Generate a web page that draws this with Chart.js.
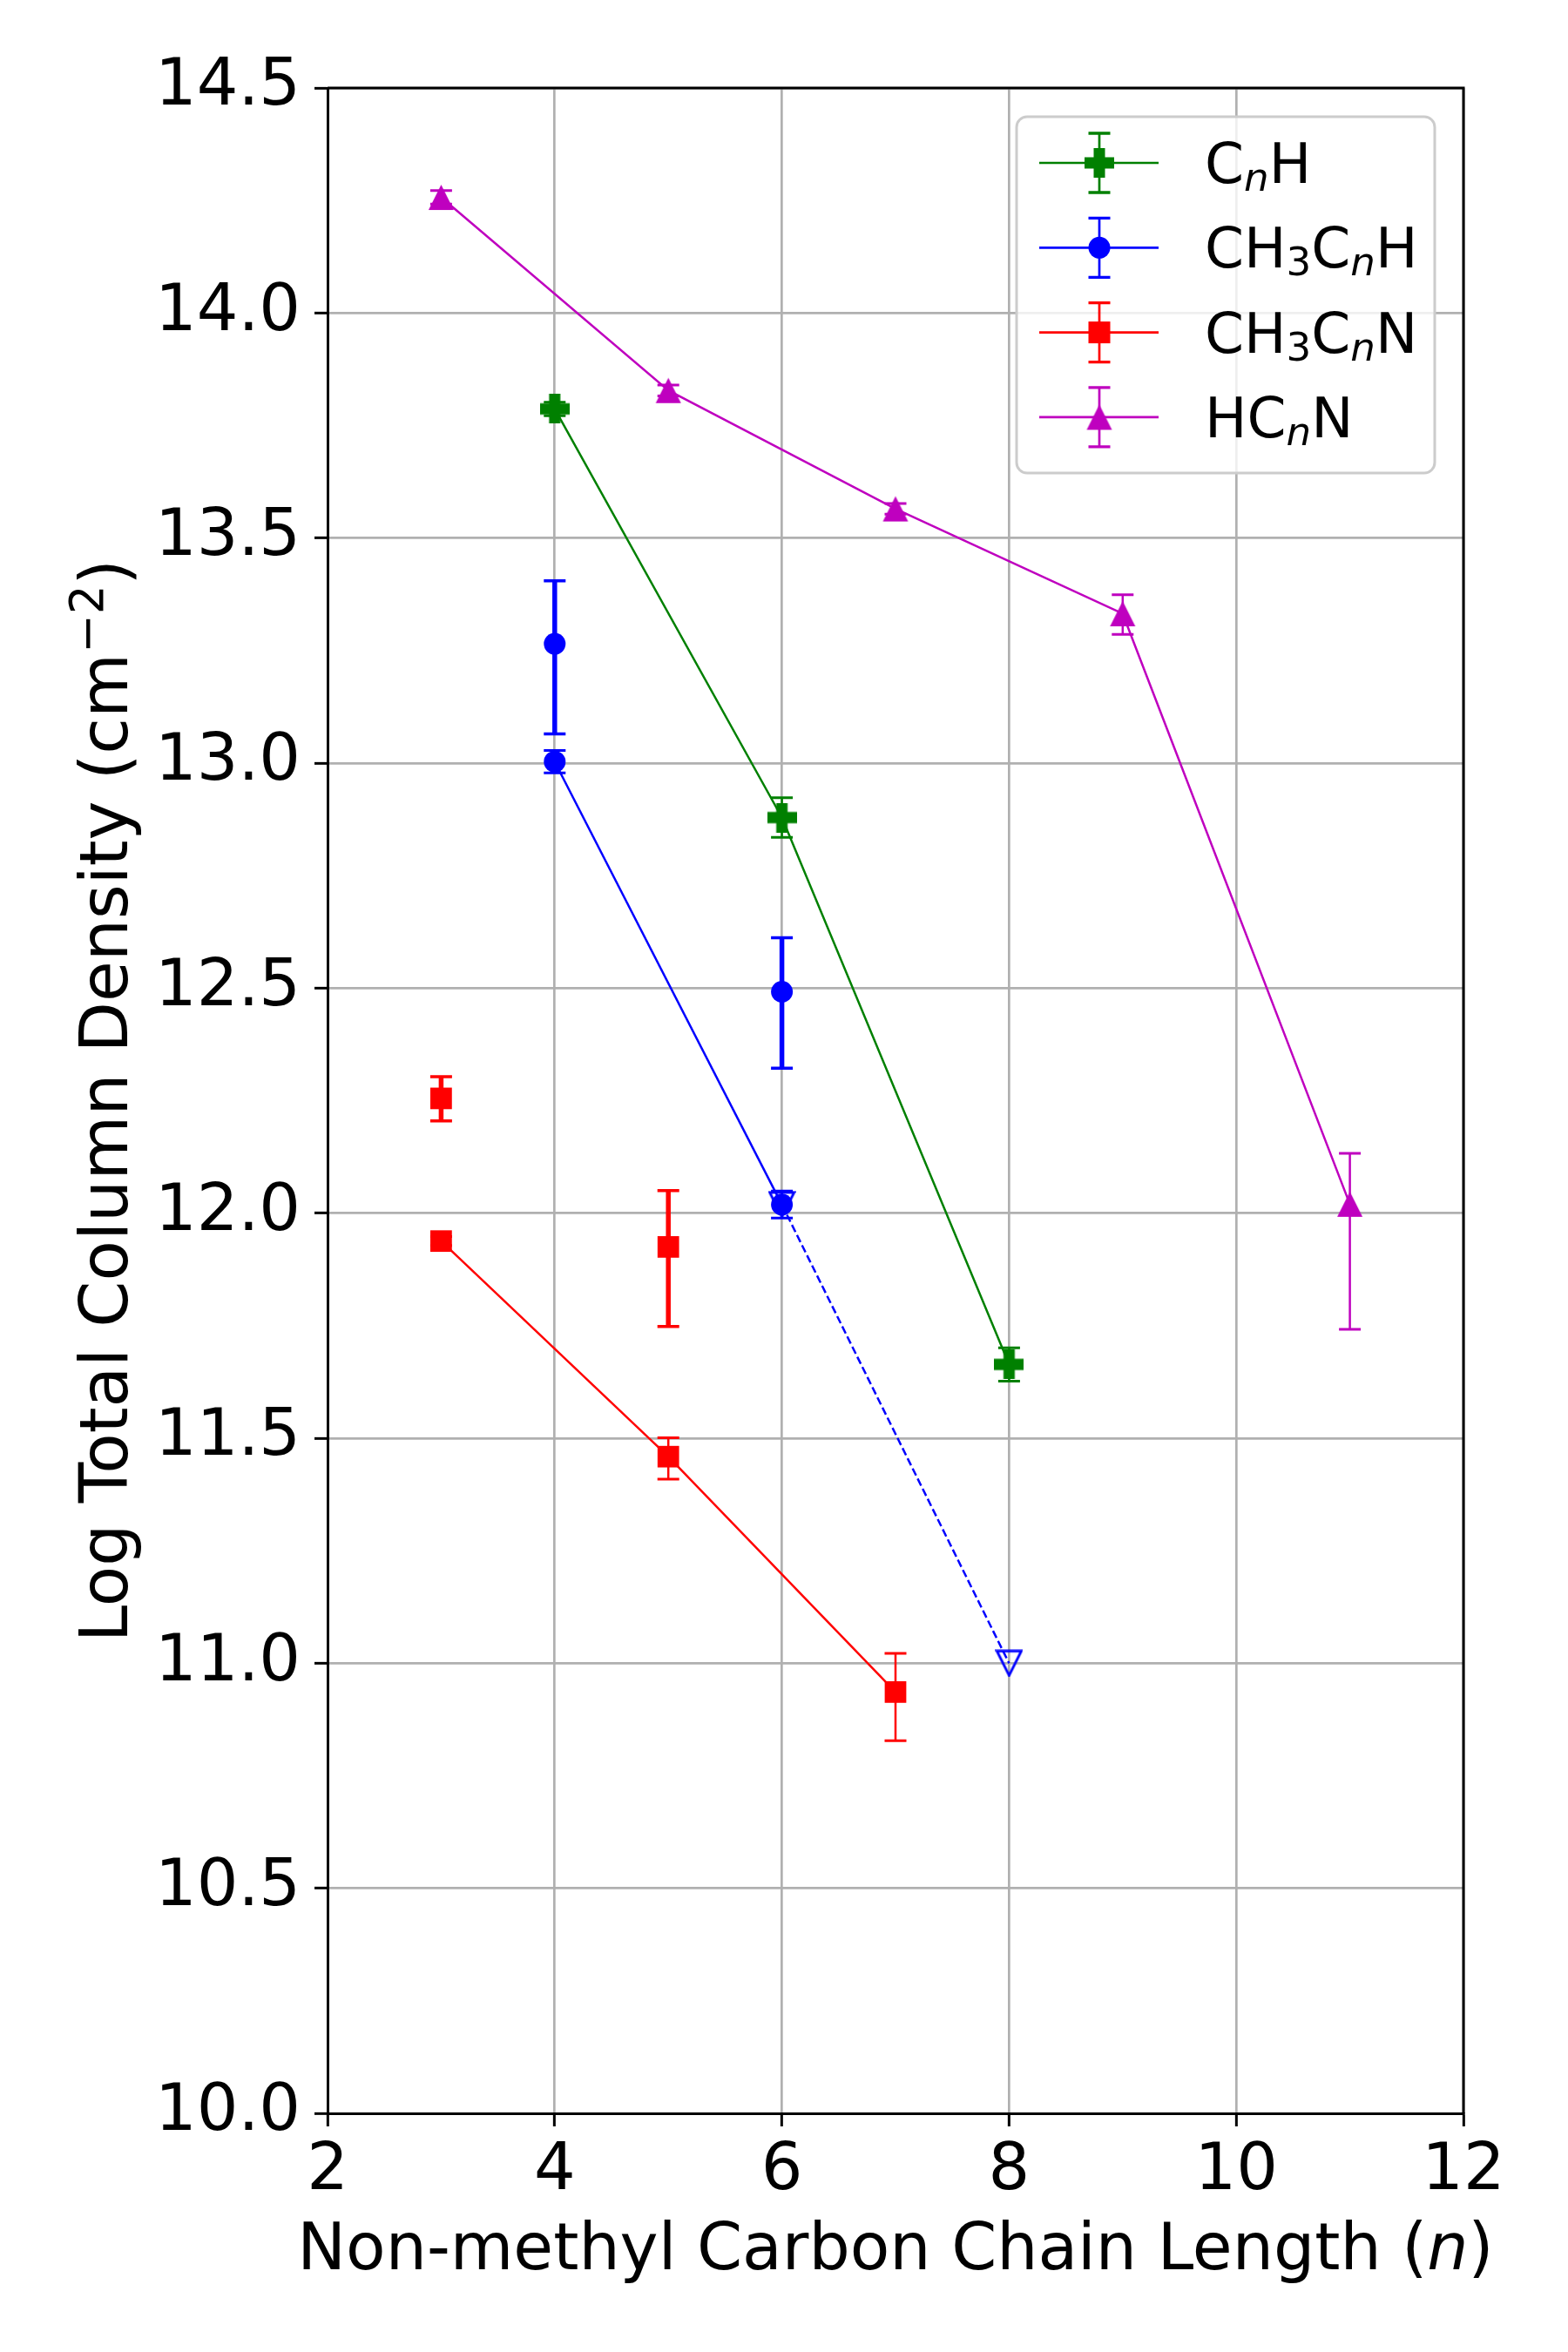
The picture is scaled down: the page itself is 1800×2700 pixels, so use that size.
<!DOCTYPE html>
<html>
<head>
<meta charset="utf-8">
<script src="https://cdn.jsdelivr.net/npm/chart.js@4.4.0/dist/chart.umd.min.js"></script>
<style>
  body { margin: 0; background: #fff; }
  canvas { display: block; }
</style>
</head>
<body>
<canvas id="chainChart" width="1800" height="2700"></canvas>
<script>
// CnH
const cnhN = [4, 6, 8];
const cnhLogN = [13.787, 12.879, 11.664];
const cnhErrHi = [0.015, 0.044, 0.037];
const cnhErrLo = [0.015, 0.044, 0.037];

// CH3CnH (connected fits)
const ch3cnhN = [4, 6];
const ch3cnhLogN = [13.003, 12.019];
const ch3cnhErrHi = [0.025, 0.03];
const ch3cnhErrLo = [0.025, 0.03];

// CH3CnH (other determination, no line)
const ch3cnhAltN = [4, 6];
const ch3cnhAltLogN = [13.265, 12.492];
const ch3cnhAltErrHi = [0.14, 0.12];
const ch3cnhAltErrLo = [0.2, 0.17];

// CH3CnH upper limit, dashed
const ch3cnhLimN = [6, 8];
const ch3cnhLimLogN = [12.019, 11.0];

// CH3CnN (connected)
const ch3cnnN = [3, 5, 7];
const ch3cnnLogN = [11.938, 11.459, 10.936];
const ch3cnnErrHi = [0.01, 0.042, 0.086];
const ch3cnnErrLo = [0.01, 0.05, 0.108];

// CH3CnN (other determination, no line)
const ch3cnnAltN = [3, 5];
const ch3cnnAltLogN = [12.255, 11.925];
const ch3cnnAltErrHi = [0.048, 0.125];
const ch3cnnAltErrLo = [0.05, 0.177];

// HCnN
const hcnnN = [3, 5, 7, 9, 11];
const hcnnLogN = [14.257, 13.828, 13.565, 13.332, 12.02];
const hcnnErrHi = [0.015, 0.012, 0.012, 0.042, 0.113];
const hcnnErrLo = [0.015, 0.012, 0.012, 0.046, 0.278];

// axis ticks
const xTicks = [2, 4, 6, 8, 10, 12];
const yTicks = [10.0, 10.5, 11.0, 11.5, 12.0, 12.5, 13.0, 13.5, 14.0, 14.5];

// legend labels as text runs: [text, style] with style '', 'sub', 'subi'
const legendLabels = [
    [['C', ''], ['n', 'subi'], ['H', '']],
    [['CH', ''], ['3', 'sub'], ['C', ''], ['n', 'subi'], ['H', '']],
    [['CH', ''], ['3', 'sub'], ['C', ''], ['n', 'subi'], ['N', '']],
    [['HC', ''], ['n', 'subi'], ['N', '']]
];
const xTitle = [['Non-methyl Carbon Chain Length (', ''], ['n', 'i'], [')', '']];
const yTitle = [['Log Total Column Density (cm', ''], ['\u22122', 'sup'], [')', '']];

const GREEN = '#008000';
const BLUE = '#0000ff';
const RED = '#ff0000';
const MAGENTA = '#bf00bf';
const FONT = "'DejaVu Sans'";

// Marker shapes drawn on small canvases
function makePlus(color, size, arm) {
    const c = document.createElement('canvas');
    c.width = size; c.height = size;
    const g = c.getContext('2d');
    g.fillStyle = color;
    const a = (size - arm) / 2;
    g.fillRect(a, 0, arm, size);
    g.fillRect(0, a, size, arm);
    return c;
}

function makeTriangle(color, size, down, filled) {
    const c = document.createElement('canvas');
    c.width = size + 4; c.height = size + 4;
    const g = c.getContext('2d');
    const m = 2;
    g.beginPath();
    if (down) {
        g.moveTo(m, m); g.lineTo(m + size, m); g.lineTo(m + size / 2, m + size);
    } else {
        g.moveTo(m + size / 2, m); g.lineTo(m + size, m + size); g.lineTo(m, m + size);
    }
    g.closePath();
    if (filled) {
        g.fillStyle = color;
        g.fill();
    } else {
        g.strokeStyle = color;
        g.lineWidth = 2.8;
        g.lineJoin = 'miter';
        g.stroke();
    }
    return c;
}

const plusMarker = makePlus(GREEN, 34, 13);
const triUp = makeTriangle(MAGENTA, 29, false, true);
const triDownOpen = makeTriangle(BLUE, 28, true, false);

function toPoints(xs, ys) {
    return xs.map((v, i) => ({ x: v, y: ys[i] }));
}

// Error bars, drawn with the chart's own scales
const errorBarPlugin = {
    id: 'errorBars',
    beforeDatasetsDraw(chart) {
        const { ctx, scales: { x, y } } = chart;
        chart.data.datasets.forEach(ds => {
            if (!ds.errHi) return;
            ctx.save();
            ctx.strokeStyle = ds.borderColor;
            ds.data.forEach((p, j) => {
                const px = x.getPixelForValue(p.x);
                const top = y.getPixelForValue(p.y + ds.errHi[j]);
                const bot = y.getPixelForValue(p.y - ds.errLo[j]);
                ctx.lineWidth = ds.barWidth;
                ctx.beginPath();
                ctx.moveTo(px, top); ctx.lineTo(px, bot);
                ctx.stroke();
                ctx.lineWidth = ds.capWidth;
                ctx.beginPath();
                ctx.moveTo(px - 12.5, top); ctx.lineTo(px + 12.5, top);
                ctx.moveTo(px - 12.5, bot); ctx.lineTo(px + 12.5, bot);
                ctx.stroke();
            });
            ctx.restore();
        });
    }
};

// Draw mixed text runs (sub/superscript, italic)
function runFont(style, size) {
    if (style === 'sub' || style === 'sup') return (size * 0.7) + 'px ' + FONT;
    if (style === 'subi') return 'oblique ' + (size * 0.7) + 'px ' + FONT;
    if (style === 'i') return 'oblique ' + size + 'px ' + FONT;
    return size + 'px ' + FONT;
}
function runShift(style, size) {
    if (style === 'sub' || style === 'subi') return size * 0.14;
    if (style === 'sup') return -size * 0.37;
    return 0;
}
function drawRuns(ctx, runs, x, y, size, align) {
    let total = 0;
    runs.forEach(r => { ctx.font = runFont(r[1], size); total += ctx.measureText(r[0]).width; });
    let cx = align === 'center' ? x - total / 2 : x;
    ctx.textAlign = 'left';
    ctx.textBaseline = 'alphabetic';
    runs.forEach(r => {
        ctx.font = runFont(r[1], size);
        ctx.fillText(r[0], cx, y + runShift(r[1], size));
        cx += ctx.measureText(r[0]).width;
    });
}

const decorPlugin = {
    id: 'decor',
    afterDraw(chart) {
        const { ctx, chartArea: a } = chart;
        ctx.save();
        // top and right spines
        ctx.strokeStyle = '#000';
        ctx.lineWidth = 3;
        ctx.beginPath();
        ctx.moveTo(a.left, a.top); ctx.lineTo(a.right, a.top); ctx.lineTo(a.right, a.bottom);
        ctx.stroke();

        // axis titles
        ctx.fillStyle = '#000';
        drawRuns(ctx, xTitle, (a.left + a.right) / 2, 2605, 74.5, 'center');
        ctx.save();
        ctx.translate(146, (a.top + a.bottom) / 2);
        ctx.rotate(-Math.PI / 2);
        drawRuns(ctx, yTitle, 0, 0, 76, 'center');
        ctx.restore();

        // legend
        const bx = a.right - 513, by = a.top + 33, bw = 480, bh = 409;
        ctx.beginPath();
        ctx.roundRect(bx, by, bw, bh, 12);
        ctx.fillStyle = 'rgba(255,255,255,0.8)';
        ctx.fill();
        ctx.strokeStyle = '#cccccc';
        ctx.lineWidth = 3;
        ctx.stroke();

        const handles = chart.data.datasets.filter(d => d.inLegend);
        handles.forEach((ds, i) => {
            const ry = by + 53 + i * 97.3;
            const mx = bx + 95;
            ctx.strokeStyle = ds.borderColor;
            ctx.lineWidth = 2.7;
            ctx.beginPath();
            ctx.moveTo(bx + 26, ry); ctx.lineTo(bx + 163, ry);
            ctx.moveTo(mx, ry - 34); ctx.lineTo(mx, ry + 34);
            ctx.stroke();
            ctx.lineWidth = 3.3;
            ctx.beginPath();
            ctx.moveTo(mx - 12.5, ry - 34); ctx.lineTo(mx + 12.5, ry - 34);
            ctx.moveTo(mx - 12.5, ry + 34); ctx.lineTo(mx + 12.5, ry + 34);
            ctx.stroke();
            const st = ds.pointStyle;
            if (st instanceof HTMLCanvasElement) {
                ctx.drawImage(st, mx - st.width / 2, ry - st.height / 2);
            } else {
                ctx.fillStyle = ds.borderColor;
                if (st === 'circle') {
                    ctx.beginPath(); ctx.arc(mx, ry, 12.5, 0, Math.PI * 2); ctx.fill();
                } else {
                    ctx.fillRect(mx - 12.5, ry - 12.5, 25, 25);
                }
            }
            ctx.fillStyle = '#000';
            drawRuns(ctx, legendLabels[i], bx + 216, ry + 23, 64.5, 'left');
        });
        ctx.restore();
    }
};

const datasets = [
    {
        label: 'CnH', inLegend: true,
        data: toPoints(cnhN, cnhLogN), errHi: cnhErrHi, errLo: cnhErrLo,
        barWidth: 2.5, capWidth: 3,
        showLine: true, borderColor: GREEN, backgroundColor: GREEN, borderWidth: 2.5,
        pointStyle: plusMarker, pointRadius: 17
    },
    {
        label: 'CH3CnH', inLegend: true,
        data: toPoints(ch3cnhN, ch3cnhLogN), errHi: ch3cnhErrHi, errLo: ch3cnhErrLo,
        barWidth: 2.5, capWidth: 3,
        showLine: true, borderColor: BLUE, backgroundColor: BLUE, borderWidth: 2.5,
        pointStyle: 'circle', pointRadius: 12.5, pointBorderWidth: 0
    },
    {
        label: 'CH3CnN', inLegend: true,
        data: toPoints(ch3cnnN, ch3cnnLogN), errHi: ch3cnnErrHi, errLo: ch3cnnErrLo,
        barWidth: 2.5, capWidth: 3,
        showLine: true, borderColor: RED, backgroundColor: RED, borderWidth: 2.5,
        pointStyle: 'rect', pointRadius: 17.5, pointBorderWidth: 0
    },
    {
        label: 'HCnN', inLegend: true,
        data: toPoints(hcnnN, hcnnLogN), errHi: hcnnErrHi, errLo: hcnnErrLo,
        barWidth: 2.5, capWidth: 3,
        showLine: true, borderColor: MAGENTA, backgroundColor: MAGENTA, borderWidth: 2.5,
        pointStyle: triUp, pointRadius: 16
    },
    {
        label: 'CH3CnH alt',
        data: toPoints(ch3cnhAltN, ch3cnhAltLogN), errHi: ch3cnhAltErrHi, errLo: ch3cnhAltErrLo,
        barWidth: 5.5, capWidth: 3.5,
        showLine: false, borderColor: BLUE, backgroundColor: BLUE,
        pointStyle: 'circle', pointRadius: 12.5, pointBorderWidth: 0
    },
    {
        label: 'CH3CnN alt',
        data: toPoints(ch3cnnAltN, ch3cnnAltLogN), errHi: ch3cnnAltErrHi, errLo: ch3cnnAltErrLo,
        barWidth: 5.5, capWidth: 3.5,
        showLine: false, borderColor: RED, backgroundColor: RED,
        pointStyle: 'rect', pointRadius: 17.5, pointBorderWidth: 0
    },
    {
        label: 'CH3CnH limit',
        data: toPoints(ch3cnhLimN, ch3cnhLimLogN),
        showLine: true, borderColor: BLUE, backgroundColor: 'rgba(0,0,0,0)', borderWidth: 2.5,
        borderDash: [9, 4],
        pointStyle: triDownOpen, pointRadius: 15
    }
];

const ctx = document.getElementById('chainChart').getContext('2d');
new Chart(ctx, {
    type: 'scatter',
    data: { datasets: datasets },
    plugins: [errorBarPlugin, decorPlugin],
    options: {
        responsive: false,
        devicePixelRatio: 1,
        animation: false,
        layout: { padding: { top: 101, right: 120, left: 0, bottom: 0 } },
        plugins: {
            legend: { display: false },
            tooltip: { enabled: false }
        },
        scales: {
            x: {
                type: 'linear',
                min: xTicks[0],
                max: xTicks[xTicks.length - 1],
                afterBuildTicks: scale => { scale.ticks = xTicks.map(v => ({ value: v })); },
                afterFit: scale => { scale.height = 274; },
                ticks: {
                    autoSkip: false,
                    maxRotation: 0,
                    padding: 8,
                    color: '#000',
                    font: { family: 'DejaVu Sans', size: 75 },
                    callback: v => String(v)
                },
                grid: { color: '#b0b0b0', lineWidth: 2.7, tickLength: 15, tickColor: '#000', tickWidth: 3 },
                border: { color: '#000', width: 3 }
            },
            y: {
                type: 'linear',
                min: yTicks[0],
                max: yTicks[yTicks.length - 1],
                afterBuildTicks: scale => { scale.ticks = yTicks.map(v => ({ value: v })); },
                afterFit: scale => { scale.width = 376; },
                ticks: {
                    autoSkip: false,
                    padding: 16,
                    color: '#000',
                    font: { family: 'DejaVu Sans', size: 75 },
                    callback: v => v.toFixed(1)
                },
                grid: { color: '#b0b0b0', lineWidth: 2.7, tickLength: 15, tickColor: '#000', tickWidth: 3 },
                border: { color: '#000', width: 3 }
            }
        }
    }
});
</script>
</body>
</html>
